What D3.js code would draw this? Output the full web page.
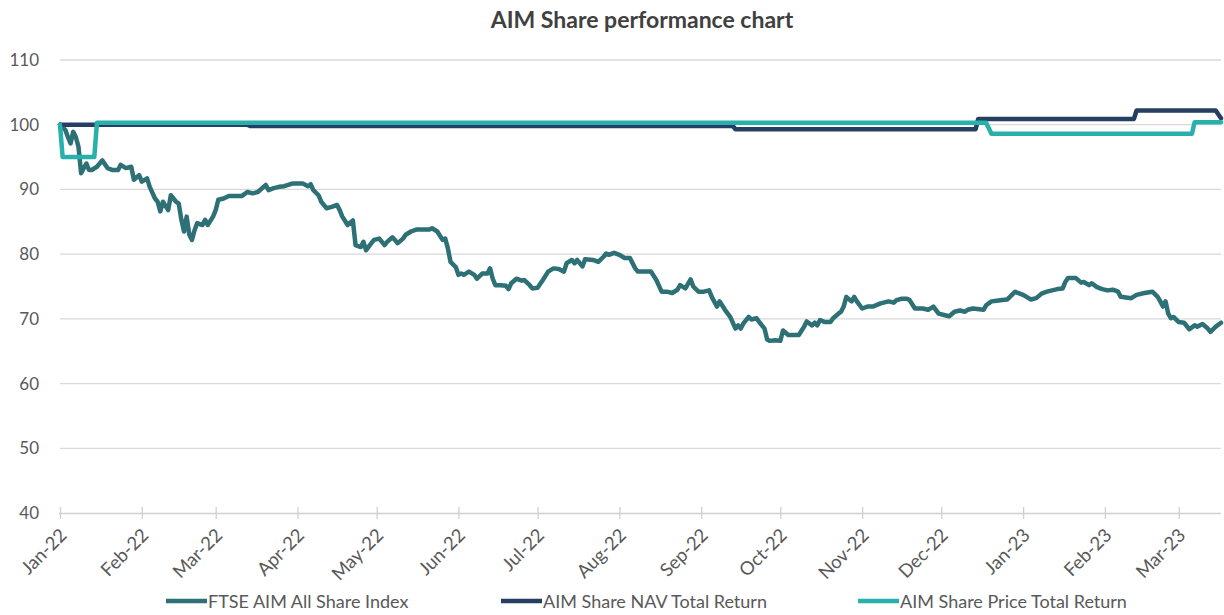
<!DOCTYPE html>
<html>
<head>
<meta charset="utf-8">
<script src="https://cdn.jsdelivr.net/npm/d3@7/dist/d3.min.js"></script>
<style>
  html, body { margin: 0; padding: 0; background: #ffffff; }
  svg { display: block; font-family: Lato, "Open Sans", sans-serif; }
</style>
</head>
<body>
<svg id="chart" width="1224" height="615"></svg>
<script>
// FTSE AIM All Share Index, rebased to 100 on 1 Jan 2022
const ftseDates = [
  "2022-01-01","2022-01-03","2022-01-04","2022-01-05","2022-01-06","2022-01-07","2022-01-08","2022-01-09",
  "2022-01-10","2022-01-11","2022-01-12","2022-01-13","2022-01-15","2022-01-17","2022-01-19","2022-01-21",
  "2022-01-23","2022-01-24","2022-01-26","2022-01-28","2022-01-29","2022-01-31","2022-02-01","2022-02-03",
  "2022-02-04","2022-02-06","2022-02-07","2022-02-08","2022-02-09","2022-02-11","2022-02-12","2022-02-14",
  "2022-02-15","2022-02-16","2022-02-17","2022-02-18","2022-02-19","2022-02-20","2022-02-21","2022-02-22",
  "2022-02-24","2022-02-25","2022-02-26","2022-02-28","2022-03-01","2022-03-02","2022-03-04","2022-03-06",
  "2022-03-11","2022-03-13","2022-03-15","2022-03-17","2022-03-20","2022-03-21","2022-03-23","2022-03-25",
  "2022-03-27","2022-03-30","2022-04-03","2022-04-05","2022-04-06","2022-04-07","2022-04-09","2022-04-10",
  "2022-04-12","2022-04-14","2022-04-16","2022-04-17","2022-04-18","2022-04-20","2022-04-22","2022-04-23",
  "2022-04-25","2022-04-26","2022-04-27","2022-04-29","2022-04-30","2022-05-02","2022-05-04","2022-05-05",
  "2022-05-07","2022-05-09","2022-05-11","2022-05-12","2022-05-14","2022-05-16","2022-05-21","2022-05-22",
  "2022-05-24","2022-05-26","2022-05-27","2022-05-28","2022-05-29","2022-05-31","2022-06-01","2022-06-02",
  "2022-06-03","2022-06-05","2022-06-07","2022-06-08","2022-06-10","2022-06-12","2022-06-13","2022-06-14",
  "2022-06-15","2022-06-17","2022-06-19","2022-06-20","2022-06-21","2022-06-23","2022-06-25","2022-06-26",
  "2022-06-28","2022-06-29","2022-07-01","2022-07-03","2022-07-05","2022-07-07","2022-07-09","2022-07-11",
  "2022-07-12","2022-07-14","2022-07-15","2022-07-16","2022-07-18","2022-07-19","2022-07-22","2022-07-24",
  "2022-07-26","2022-07-27","2022-07-28","2022-07-30","2022-08-01","2022-08-03","2022-08-05","2022-08-07",
  "2022-08-08","2022-08-10","2022-08-13","2022-08-15","2022-08-17","2022-08-19","2022-08-21","2022-08-23",
  "2022-08-24","2022-08-26","2022-08-28","2022-08-29","2022-08-31","2022-09-02","2022-09-04","2022-09-05",
  "2022-09-07","2022-09-08","2022-09-10","2022-09-12","2022-09-14","2022-09-15","2022-09-16","2022-09-17",
  "2022-09-19","2022-09-20","2022-09-22","2022-09-23","2022-09-25","2022-09-26","2022-09-27","2022-09-29",
  "2022-10-01","2022-10-02","2022-10-04","2022-10-08","2022-10-10","2022-10-11","2022-10-13","2022-10-14",
  "2022-10-15","2022-10-16","2022-10-18","2022-10-20","2022-10-21","2022-10-23","2022-10-24","2022-10-25",
  "2022-10-26","2022-10-28","2022-10-29","2022-10-30","2022-11-01","2022-11-03","2022-11-05","2022-11-08",
  "2022-11-11","2022-11-13","2022-11-14","2022-11-16","2022-11-18","2022-11-19","2022-11-21","2022-11-24",
  "2022-11-26","2022-11-28","2022-11-30","2022-12-02","2022-12-04","2022-12-06","2022-12-08","2022-12-10",
  "2022-12-11","2022-12-13","2022-12-17","2022-12-18","2022-12-20","2022-12-22","2022-12-24","2022-12-26",
  "2022-12-27","2022-12-29","2022-12-30","2023-01-01","2023-01-04","2023-01-06","2023-01-08","2023-01-10",
  "2023-01-12","2023-01-14","2023-01-16","2023-01-17","2023-01-18","2023-01-21","2023-01-23","2023-01-24",
  "2023-01-26","2023-01-27","2023-01-29","2023-01-31","2023-02-02","2023-02-04","2023-02-06","2023-02-07",
  "2023-02-11","2023-02-13","2023-02-16","2023-02-19","2023-02-21","2023-02-22","2023-02-23","2023-02-24",
  "2023-02-25","2023-02-26","2023-02-27","2023-03-01","2023-03-03","2023-03-05","2023-03-07","2023-03-08",
  "2023-03-10","2023-03-12","2023-03-13","2023-03-15","2023-03-17"
];
const ftseValues = [
  100.0, 99.2, 98.1, 97.1, 98.9, 98.1, 96.6, 92.5,
  93.3, 94.0, 93.0, 93.0, 93.5, 94.5, 93.3, 93.0,
  93.0, 93.8, 93.3, 93.5, 91.5, 92.2, 91.2, 91.7,
  90.4, 88.6, 88.1, 86.6, 88.1, 86.8, 89.1, 88.1,
  87.8, 85.3, 83.5, 85.8, 83.0, 82.2, 83.7, 84.8,
  84.5, 85.3, 84.5, 85.8, 86.8, 88.4, 88.6, 89.0,
  89.0, 89.6, 89.4, 89.6, 90.7, 89.9, 90.2, 90.4,
  90.5, 90.9, 90.9, 90.5, 90.8, 89.9, 89.1, 88.1,
  87.1, 87.3, 87.6, 86.8, 85.8, 84.5, 85.2, 81.4,
  81.1, 81.9, 80.6, 81.7, 82.2, 82.4, 81.4, 81.9,
  82.6, 81.7, 82.4, 83.0, 83.5, 83.8, 83.8, 84.0,
  83.5, 82.2, 82.4, 80.9, 78.8, 78.0, 76.8, 77.0,
  76.8, 77.3, 76.8, 76.2, 77.0, 77.0, 77.8, 76.2,
  75.2, 75.2, 75.1, 74.6, 75.5, 76.2, 75.9, 76.0,
  75.2, 74.7, 74.8, 76.0, 77.3, 77.8, 77.7, 77.3,
  78.6, 79.1, 78.6, 79.1, 78.1, 79.2, 79.1, 78.8,
  79.6, 80.1, 79.9, 80.2, 79.9, 79.4, 79.4, 77.8,
  77.3, 77.3, 77.3, 76.0, 74.2, 74.2, 74.0, 74.5,
  75.2, 74.7, 76.1, 75.0, 74.2, 74.2, 74.4, 73.4,
  71.9, 72.7, 71.4, 70.3, 68.5, 69.0, 68.5, 69.3,
  70.3, 69.9, 70.1, 69.5, 68.5, 66.8, 66.6, 66.7,
  66.6, 68.2, 67.5, 67.5, 68.8, 69.6, 69.0, 69.4,
  69.0, 69.8, 69.5, 69.5, 70.1, 70.8, 71.1, 71.9,
  73.4, 72.7, 73.4, 72.7, 71.6, 71.9, 71.9, 72.4,
  72.7, 72.5, 72.9, 73.1, 73.1, 72.9, 71.6, 71.6,
  71.4, 71.9, 70.8, 70.6, 70.4, 71.1, 71.3, 71.1,
  71.4, 71.6, 71.4, 72.1, 72.7, 72.8, 72.9, 73.0,
  73.4, 74.2, 74.0, 73.7, 73.0, 73.2, 73.9, 74.2,
  74.4, 74.6, 74.7, 75.7, 76.3, 76.3, 75.6, 75.7,
  75.2, 75.5, 74.9, 74.6, 74.4, 74.5, 74.2, 73.4,
  73.2, 73.7, 74.0, 74.2, 73.4, 72.7, 71.9, 72.7,
  70.8, 70.1, 70.3, 69.5, 69.4, 68.4, 69.0, 68.8,
  69.2, 68.5, 68.0, 68.8, 69.4
];

// AIM Share NAV Total Return
const navDates = [
  "2022-01-01","2022-03-13","2022-03-14","2022-09-13","2022-09-14","2022-12-14","2022-12-15",
  "2023-02-12","2023-02-13","2023-03-15","2023-03-17"
];
const navValues = [100.0, 100.0, 99.8, 99.8, 99.3, 99.3, 100.9, 100.9, 102.2, 102.2, 101.0];

// AIM Share Price Total Return
const priceDates = [
  "2022-01-01","2022-01-02","2022-01-14","2022-01-15","2022-12-18","2022-12-20",
  "2023-03-06","2023-03-07","2023-03-17"
];
const priceValues = [100.0, 95.0, 95.0, 100.3, 100.3, 98.6, 98.6, 100.4, 100.4];

const yTicks = [40, 50, 60, 70, 80, 90, 100, 110];
const seriesNames = ["FTSE AIM All Share Index", "AIM Share NAV Total Return", "AIM Share Price Total Return"];
const seriesColors = ["#2d7075", "#253e61", "#28b0ac"];

const parse = d3.timeParse("%Y-%m-%d");
const toPoints = (dates, values) => dates.map((d, i) => ({ date: parse(d), value: values[i] }));
const series = [
  toPoints(ftseDates, ftseValues),
  toPoints(navDates, navValues),
  toPoints(priceDates, priceValues)
];

const svg = d3.select("#chart");
const plot = { left: 60, right: 1221, top: 60, bottom: 513 };

const x = d3.scaleTime()
  .domain([parse("2022-01-01"), parse("2023-03-17")])
  .range([plot.left, plot.right]);
const y = d3.scaleLinear().domain([40, 110]).range([plot.bottom, plot.top]);

// title
svg.append("text")
  .attr("x", 642).attr("y", 28)
  .attr("text-anchor", "middle")
  .attr("font-size", 23).attr("font-weight", 700)
  .attr("fill", "#404040")
  .text("AIM Share performance chart");

// horizontal gridlines
svg.append("g")
  .selectAll("line")
  .data(yTicks.filter(t => t !== 40))
  .join("line")
  .attr("x1", plot.left).attr("x2", plot.right)
  .attr("y1", d => y(d)).attr("y2", d => y(d))
  .attr("stroke", "#d9d9d9").attr("stroke-width", 1.3);

// y axis labels
const yAxis = svg.append("g")
  .attr("transform", `translate(${plot.left},0)`)
  .call(d3.axisLeft(y).tickValues(yTicks).tickSize(0).tickPadding(21));
yAxis.select(".domain").remove();
yAxis.selectAll("text")
  .attr("font-family", "Lato, sans-serif")
  .attr("font-size", 17)
  .attr("fill", "#595959");

// x axis
const xAxis = svg.append("g")
  .attr("transform", `translate(0,${plot.bottom})`)
  .call(d3.axisBottom(x)
    .ticks(d3.timeMonth.every(1))
    .tickFormat(d3.timeFormat("%b-%y"))
    .tickSizeInner(6).tickSizeOuter(0));
xAxis.select(".domain").attr("stroke", "#d0d0d0").attr("stroke-width", 1.5)
  .attr("d", `M${plot.left - 1},0.5H${plot.right}`);
xAxis.selectAll(".tick line").attr("stroke", "#d0d0d0").attr("stroke-width", 1.3)
  .attr("y1", -6).attr("y2", 6);
xAxis.selectAll(".tick text")
  .attr("font-family", "Lato, sans-serif")
  .attr("font-size", 18.5)
  .attr("fill", "#595959")
  .attr("text-anchor", "end")
  .attr("dy", 0)
  .attr("transform", "translate(1,17) rotate(-45)");

// lines
const line = d3.line().x(d => x(d.date)).y(d => y(d.value));
svg.append("g")
  .selectAll("path")
  .data(series)
  .join("path")
  .attr("d", line)
  .attr("fill", "none")
  .attr("stroke", (d, i) => seriesColors[i])
  .attr("stroke-width", 4.5)
  .attr("stroke-linejoin", "round")
  .attr("stroke-linecap", "round");

// legend
const legendX = [166, 501, 858];
const legend = svg.append("g")
  .selectAll("g")
  .data(seriesNames)
  .join("g")
  .attr("transform", (d, i) => `translate(${legendX[i]},601)`);
legend.append("line")
  .attr("x1", 0).attr("x2", 41)
  .attr("stroke", (d, i) => seriesColors[i])
  .attr("stroke-width", 4.5);
legend.append("text")
  .attr("x", 42).attr("y", 6.5)
  .attr("font-size", 18)
  .attr("fill", "#595959")
  .text(d => d);
</script>
</body>
</html>
